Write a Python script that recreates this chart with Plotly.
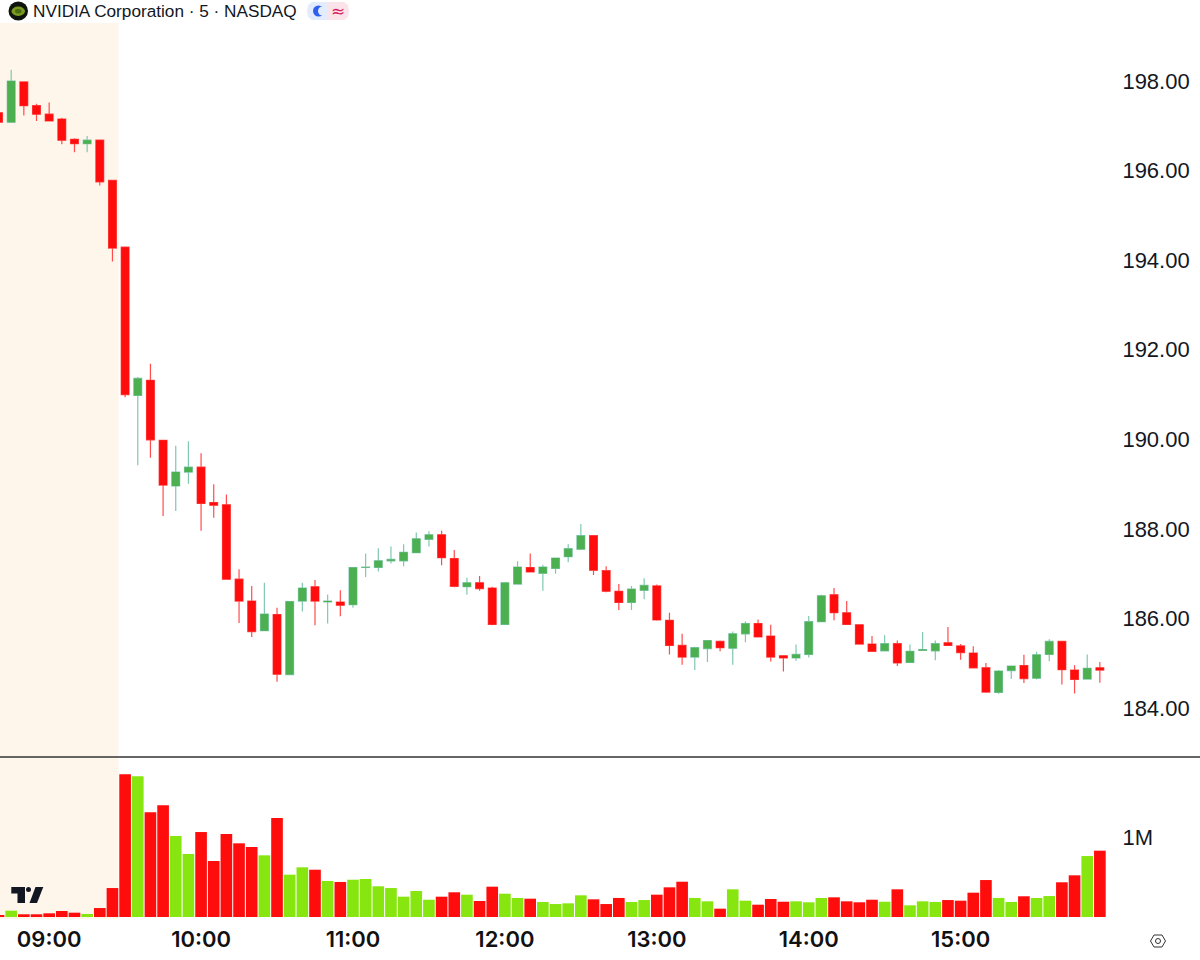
import pandas as pd
import plotly.graph_objects as go
from plotly.subplots import make_subplots

W = 1200
H = 960

# 5 minute bars, 08:40 to 15:55
times = pd.date_range('2025-11-07 08:40', periods=88, freq='5min')

opens = [
    197.29, 197.08, 197.98, 197.45, 197.26, 197.15, 196.70, 196.60, 196.68, 195.78,
    194.29, 190.98, 191.32, 189.98, 188.96, 189.27, 189.38, 188.59, 188.54, 186.88,
    186.39, 185.73, 186.09, 184.75, 186.39, 186.71, 186.37, 186.37, 186.31, 187.14,
    187.14, 187.29, 187.29, 187.47, 187.77, 187.87, 187.34, 186.71, 186.80, 186.68,
    185.87, 186.77, 187.14, 187.01, 187.12, 187.38, 187.55, 187.85, 187.07, 186.61,
    186.36, 186.63, 186.73, 185.96, 185.40, 185.14, 185.33, 185.49, 185.34, 185.66,
    185.89, 185.61, 185.17, 185.12, 185.20, 185.93, 186.53, 186.13, 185.86, 185.43,
    185.28, 185.44, 185.02, 185.29, 185.28, 185.46, 185.39, 185.23, 184.90, 184.35,
    184.84, 184.95, 184.67, 185.20, 185.49, 184.85, 184.65, 184.90,
]
highs = [
    197.29, 198.25, 197.98, 197.49, 197.52, 197.18, 196.72, 196.77, 196.68, 195.78,
    194.30, 191.39, 191.69, 189.99, 189.86, 189.96, 189.69, 189.00, 188.77, 187.10,
    186.73, 186.80, 186.24, 186.38, 186.80, 186.86, 186.54, 186.63, 187.14, 187.45,
    187.57, 187.61, 187.66, 187.92, 187.95, 187.96, 187.53, 186.91, 186.95, 186.71,
    186.80, 187.28, 187.45, 187.20, 187.35, 187.66, 188.11, 187.85, 187.17, 186.77,
    186.73, 186.90, 186.76, 186.13, 185.66, 185.37, 185.51, 185.51, 185.71, 185.94,
    185.98, 185.86, 185.18, 185.42, 186.06, 186.53, 186.68, 186.39, 185.86, 185.61,
    185.63, 185.51, 185.42, 185.70, 185.51, 185.81, 185.43, 185.38, 185.01, 184.85,
    184.94, 185.19, 185.26, 185.54, 185.49, 184.96, 185.20, 185.03,
]
lows = [
    197.08, 197.08, 197.23, 197.11, 197.11, 196.59, 196.41, 196.41, 195.67, 193.97,
    190.94, 189.42, 189.59, 188.29, 188.40, 189.01, 187.96, 188.25, 186.88, 185.90,
    185.59, 185.73, 184.59, 184.74, 186.16, 185.85, 185.89, 186.05, 186.24, 186.93,
    187.05, 187.23, 187.17, 187.47, 187.61, 187.19, 186.70, 186.53, 186.62, 185.85,
    185.87, 186.76, 187.03, 186.62, 187.00, 187.26, 187.55, 186.97, 186.59, 186.19,
    186.19, 186.43, 185.95, 185.20, 184.97, 184.85, 185.03, 185.27, 184.97, 185.47,
    185.59, 185.04, 184.82, 185.06, 185.13, 185.93, 185.96, 185.87, 185.43, 185.26,
    185.28, 184.94, 185.02, 185.28, 185.07, 185.40, 185.08, 184.90, 184.34, 184.32,
    184.65, 184.56, 184.64, 185.05, 184.53, 184.33, 184.65, 184.57,
]
closes = [
    197.08, 198.00, 197.45, 197.26, 197.11, 196.68, 196.60, 196.68, 195.75, 194.27,
    191.00, 191.36, 189.99, 188.98, 189.27, 189.38, 188.57, 188.53, 186.88, 186.39,
    185.71, 186.10, 184.76, 186.38, 186.68, 186.39, 186.39, 186.30, 187.14, 187.15,
    187.29, 187.32, 187.48, 187.78, 187.87, 187.36, 186.72, 186.80, 186.67, 185.87,
    186.80, 187.15, 187.04, 187.15, 187.35, 187.56, 187.85, 187.08, 186.61, 186.36,
    186.66, 186.74, 185.97, 185.40, 185.14, 185.35, 185.51, 185.35, 185.66, 185.89,
    185.59, 185.14, 185.12, 185.20, 185.93, 186.51, 186.13, 185.87, 185.43, 185.27,
    185.44, 185.01, 185.27, 185.31, 185.44, 185.40, 185.24, 184.90, 184.36, 184.83,
    184.94, 184.66, 185.19, 185.49, 184.86, 184.64, 184.89, 184.85,
]
volumes = [
    21000, 79000, 34000, 34000, 46000, 75000, 54000, 38000, 112000, 362000,
    1784000, 1759000, 1309000, 1396000, 1012000, 788000, 1062000, 700000, 1038000, 921000,
    875000, 771000, 1238000, 529000, 621000, 591000, 450000, 438000, 466000, 475000,
    384000, 362000, 254000, 325000, 216000, 254000, 309000, 279000, 200000, 379000,
    291000, 238000, 229000, 188000, 162000, 171000, 271000, 221000, 162000, 238000,
    188000, 212000, 279000, 371000, 441000, 238000, 196000, 104000, 346000, 204000,
    154000, 225000, 191000, 196000, 184000, 238000, 246000, 196000, 184000, 216000,
    191000, 346000, 146000, 196000, 188000, 212000, 204000, 304000, 462000, 238000,
    188000, 259000, 238000, 262000, 434000, 521000, 762000, 829000,
]

price_ticks = [184, 186, 188, 190, 192, 194, 196, 198]
hour_ticks = ['09:00', '10:00', '11:00', '12:00', '13:00', '14:00', '15:00']

UP = '#4CAF50'
UP_WICK = '#80C7B0'
DOWN = '#FF0D0D'
DOWN_WICK = '#FF4D4D'
VOL_UP = '#87E60F'
VOL_DOWN = '#FF0D0D'
FONT = 'Liberation Sans'
TEXT = '#131722'


def px(x):
    return x / W


def py(y):
    return 1 - y / H


def pane_path(points):
    # pixel points -> closed svg path in paper coordinates
    d = ' L '.join(f'{px(x):.5f} {py(y):.5f}' for x, y in points)
    return f'M {d} Z'


fig = make_subplots(rows=2, cols=1, shared_xaxes=True, vertical_spacing=0)

# wicks first, then plain bodies over them so wicks can stay lighter
fig.add_trace(go.Candlestick(
    x=times, open=opens, high=highs, low=lows, close=closes,
    increasing=dict(line=dict(color=UP_WICK, width=1.2), fillcolor=UP),
    decreasing=dict(line=dict(color=DOWN_WICK, width=1.2), fillcolor=DOWN),
    whiskerwidth=0, showlegend=False,
), row=1, col=1)
fig.add_trace(go.Candlestick(
    x=times, open=opens, high=highs, low=lows, close=closes,
    increasing=dict(line=dict(color=UP, width=0), fillcolor=UP),
    decreasing=dict(line=dict(color=DOWN, width=0), fillcolor=DOWN),
    whiskerwidth=0, showlegend=False,
), row=1, col=1)

vol_colors = [VOL_UP if c >= o else VOL_DOWN for o, c in zip(opens, closes)]
fig.add_trace(go.Bar(x=times, y=volumes, marker=dict(color=vol_colors, line=dict(width=0)), showlegend=False),
              row=2, col=1)

x_range = ['2025-11-07 08:40:35', '2025-11-07 15:59:00']

fig.update_xaxes(
    range=x_range, domain=[0, px(1110)], showgrid=False, zeroline=False, showline=False,
    rangeslider_visible=False,
)
fig.update_xaxes(
    tickvals=[f'2025-11-07 {t}' for t in hour_ticks], ticktext=hour_ticks,
    ticks='outside', ticklen=3, tickcolor='rgba(0,0,0,0)',
    tickfont=dict(family='Inter', size=22, color='#111111', weight=600),
    row=2, col=1,
)
fig.update_yaxes(
    domain=[py(757), py(23)], range=[182.91, 199.295], side='right',
    tickvals=price_ticks, ticktext=[f'{p:.2f}' for p in price_ticks],
    ticks='outside', ticklen=7, tickcolor='rgba(0,0,0,0)',
    tickfont=dict(family=FONT, size=22, color=TEXT),
    showgrid=False, zeroline=False, showline=False, row=1, col=1,
)
fig.update_yaxes(
    domain=[py(917), py(757)], range=[0, 2000000], side='right',
    tickvals=[1000000], ticktext=['1M'],
    ticks='outside', ticklen=7, tickcolor='rgba(0,0,0,0)',
    tickfont=dict(family=FONT, size=22, color=TEXT),
    showgrid=False, zeroline=False, showline=False, row=2, col=1,
)

shapes = [
    # pre-market background
    dict(type='rect', xref='paper', yref='paper', x0=0, x1=px(118.5), y0=py(919), y1=py(23),
         fillcolor='#FFF6EB', line=dict(width=0), layer='below'),
    # pane divider
    dict(type='line', xref='paper', yref='paper', x0=0, x1=1, y0=py(757), y1=py(757),
         line=dict(color='#333333', width=1.4)),
    # logo
    dict(type='circle', xref='paper', yref='paper', x0=px(8.5), x1=px(28), y0=py(20.5), y1=py(1.5),
         fillcolor='#10140F', line=dict(width=0)),
    dict(type='circle', xref='paper', yref='paper', x0=px(11.5), x1=px(25), y0=py(16), y1=py(6.5),
         fillcolor='#7A9A20', line=dict(width=0)),
    dict(type='circle', xref='paper', yref='paper', x0=px(15), x1=px(21.5), y0=py(13.5), y1=py(9),
         fillcolor='#4A6B10', line=dict(width=0)),
    # status pill
    dict(type='path', xref='paper', yref='paper', line=dict(width=0), fillcolor='#E3ECFD',
         path=pane_path([(312, 2), (328, 2), (328, 20), (312, 20), (308, 17), (307, 11), (308, 5)])),
    dict(type='path', xref='paper', yref='paper', line=dict(width=0), fillcolor='#FBE3EA',
         path=pane_path([(328, 2), (344, 2), (348, 5), (349, 11), (348, 17), (344, 20), (328, 20)])),
    # moon
    dict(type='circle', xref='paper', yref='paper', x0=px(313), x1=px(324), y0=py(16.5), y1=py(5.5),
         fillcolor='#2F5FF0', line=dict(width=0)),
    dict(type='circle', xref='paper', yref='paper', x0=px(318), x1=px(327), y0=py(15.5), y1=py(6.5),
         fillcolor='#E3ECFD', line=dict(width=0)),
    # tradingview mark
    dict(type='path', xref='paper', yref='paper', line=dict(width=0), fillcolor='#131722',
         path=pane_path([(11.3, 887), (25, 887), (25, 903), (17.5, 903), (17.5, 893.5), (11.3, 893.5)])),
    dict(type='circle', xref='paper', yref='paper', x0=px(26), x1=px(31), y0=py(892), y1=py(887),
         fillcolor='#131722', line=dict(width=0)),
    dict(type='path', xref='paper', yref='paper', line=dict(width=0), fillcolor='#131722',
         path=pane_path([(35.5, 887), (43.3, 887), (37, 903), (29.5, 903)])),
    # settings hexagon
    dict(type='path', xref='paper', yref='paper', line=dict(color='#333333', width=1), fillcolor='rgba(0,0,0,0)',
         path=pane_path([(1150.5, 941), (1154, 935), (1162, 935), (1165.5, 941), (1162, 947), (1154, 947)])),
    dict(type='circle', xref='paper', yref='paper', x0=px(1155.5), x1=px(1160.5), y0=py(943.5), y1=py(938.5),
         line=dict(color='#333333', width=1), fillcolor='rgba(0,0,0,0)'),
]

annotations = [
    dict(xref='paper', yref='paper', x=px(31), y=py(11), xanchor='left', yanchor='middle',
         text='NVIDIA Corporation · 5 · NASDAQ', showarrow=False,
         font=dict(family=FONT, size=17.2, color=TEXT)),
    dict(xref='paper', yref='paper', x=px(338), y=py(11), xanchor='center', yanchor='middle',
         text='≈', showarrow=False, font=dict(family='DejaVu Sans', size=17, color='#D81B60')),
]

fig.update_layout(
    width=W, height=H,
    margin=dict(l=0, r=0, t=0, b=0),
    paper_bgcolor='white', plot_bgcolor='rgba(0,0,0,0)',
    template='none',
    bargap=0.08, boxgap=0.12,
    shapes=shapes, annotations=annotations,
    font=dict(family=FONT),
)

fig.write_html("out.html", config={'displayModeBar': False}, post_script="document.body.style.margin='0';")
